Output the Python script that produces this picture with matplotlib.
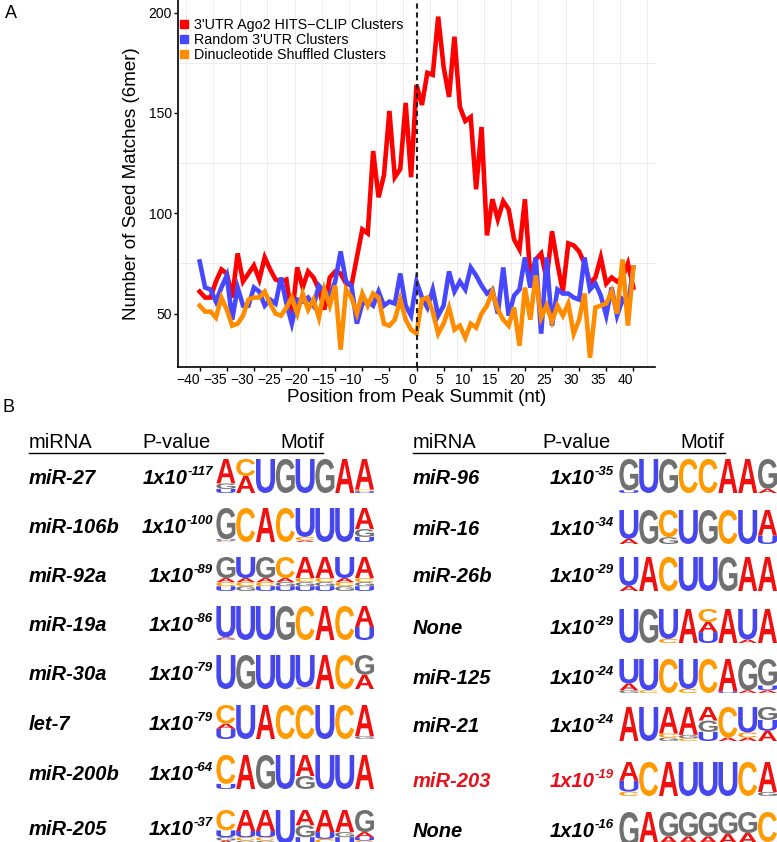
import matplotlib
matplotlib.use('Agg')
import matplotlib.pyplot as plt
import numpy as np
from matplotlib.lines import Line2D
from matplotlib.patches import PathPatch
from matplotlib.textpath import TextPath
from matplotlib.font_manager import FontProperties
from matplotlib.transforms import Affine2D

plt.rcParams['font.family'] = 'Liberation Sans'

# ---- Painel A: seed matches em torno do pico ----
positions = np.arange(-40, 41)
ago2_clip = [61, 58, 58, 66, 72, 70, 58, 80, 66, 70,
             74, 67, 78, 72, 67, 66, 67, 48, 73, 63,
             71, 68, 62, 52, 68, 71, 70, 65, 64, 78,
             92, 90, 131, 108, 119, 151, 118, 122, 155, 118,
             164, 154, 170, 169, 198, 173, 158, 188, 153, 146,
             148, 112, 143, 89, 107, 97, 106, 102, 87, 82,
             107, 68, 77, 80, 67, 91, 75, 61, 85, 84,
             81, 75, 65, 68, 78, 65, 68, 66, 68, 75, 63]
random_utr = [76, 63, 62, 56, 63, 69, 47, 63, 54, 54,
              63, 61, 54, 57, 55, 68, 55, 45, 57, 56,
              58, 54, 64, 61, 59, 66, 81, 66, 64, 45,
              55, 56, 54, 61, 54, 56, 55, 70, 54, 49,
              66, 58, 53, 62, 49, 54, 71, 61, 66, 62,
              73, 69, 64, 60, 62, 50, 73, 49, 59, 62,
              78, 63, 78, 40, 78, 44, 62, 60, 60, 58,
              57, 78, 62, 65, 59, 49, 63, 49, 57, 54, 73]
shuffled = [54, 51, 51, 48, 58, 52, 44, 45, 49, 57,
            58, 58, 61, 55, 50, 49, 53, 58, 50, 60,
            52, 57, 48, 62, 54, 64, 32, 62, 58, 50,
            60, 54, 60, 58, 45, 44, 47, 57, 47, 42,
            40, 57, 58, 51, 40, 45, 53, 42, 44, 38,
            45, 43, 50, 54, 61, 52, 47, 44, 53, 34,
            63, 47, 69, 48, 54, 46, 54, 49, 55, 40,
            47, 60, 28, 53, 54, 55, 61, 50, 77, 44, 73]
series_labels = ["3'UTR Ago2 HITS\u2212CLIP Clusters", "Random 3'UTR Clusters",
                 "Dinucleotide Shuffled Clusters"]
series_colors = ['#ff0000', '#4747ff', '#ff8c00']

# ---- Painel B: tabela de motivos ----
left_mirna = ['miR-27', 'miR-106b', 'miR-92a', 'miR-19a', 'miR-30a', 'let-7', 'miR-200b', 'miR-205']
left_exp = [117, 100, 89, 86, 79, 79, 64, 37]
left_motifs = [
    [[('A', .72), ('G', .16), ('U', .12)], [('C', .5), ('A', .5)], [('U', 1)], [('G', 1)], [('U', 1)],
     [('G', 1)], [('A', 1)], [('A', .9), ('C', .05), ('U', .05)]],
    [[('G', .92), ('U', .04), ('C', .04)], [('C', 1)], [('A', 1)], [('C', 1)], [('U', .85), ('C', .1), ('A', .05)],
     [('U', 1)], [('U', 1)], [('A', .62), ('G', .23), ('U', .15)]],
    [[('G', .62), ('A', .12), ('C', .12), ('U', .14)], [('U', .62), ('A', .12), ('C', .12), ('G', .14)],
     [('G', .62), ('A', .12), ('C', .12), ('U', .14)], [('C', .62), ('A', .12), ('G', .12), ('U', .14)],
     [('A', .62), ('C', .12), ('G', .12), ('U', .14)], [('A', .62), ('C', .12), ('G', .12), ('U', .14)],
     [('U', .62), ('A', .12), ('C', .12), ('G', .14)], [('A', .62), ('C', .12), ('G', .12), ('U', .14)]],
    [[('U', .92), ('A', .04), ('G', .04)], [('U', 1)], [('U', 1)], [('G', 1)], [('C', 1)], [('A', 1)],
     [('C', 1)], [('A', .62), ('U', .38)]],
    [[('U', 1)], [('G', 1)], [('U', 1)], [('U', 1)], [('U', .95), ('C', .05)], [('A', 1)], [('C', 1)],
     [('G', .58), ('A', .42)]],
    [[('C', .55), ('A', .15), ('U', .3)], [('U', 1)], [('A', 1)], [('C', 1)], [('C', 1)], [('U', 1)],
     [('C', 1)], [('A', .92), ('G', .08)]],
    [[('C', .85), ('U', .15)], [('A', 1)], [('G', 1)], [('U', 1)], [('A', .62), ('G', .38)], [('U', 1)],
     [('U', 1)], [('A', 1)]],
    [[('C', .6), ('U', .2), ('G', .1), ('A', .1)], [('A', .62), ('U', .18), ('C', .1), ('G', .1)],
     [('A', .62), ('U', .18), ('C', .1), ('G', .1)], [('U', 1)], [('A', .45), ('G', .35), ('U', .2)],
     [('A', .65), ('U', .2), ('C', .15)], [('A', .65), ('G', .15), ('U', .2)],
     [('G', .65), ('A', .15), ('U', .1), ('C', .1)]],
]
right_mirna = ['miR-96', 'miR-16', 'miR-26b', 'None', 'miR-125', 'miR-21', 'miR-203', 'None']
right_exp = [35, 34, 29, 29, 24, 24, 19, 16]
right_motifs = [
    [[('G', .92), ('U', .08)], [('U', 1)], [('G', 1)], [('C', 1)], [('C', 1)], [('A', 1)], [('A', 1)],
     [('G', .88), ('A', .12)]],
    [[('U', .85), ('A', .15)], [('G', 1)], [('C', .8), ('G', .2)], [('U', 1)], [('G', 1)], [('C', 1)],
     [('U', 1)], [('A', .75), ('U', .25)]],
    [[('U', .85), ('A', .15)], [('A', 1)], [('C', 1)], [('U', 1)], [('U', 1)], [('G', 1)], [('A', 1)],
     [('A', 1)]],
    [[('U', 1)], [('G', 1)], [('U', .88), ('C', .12)], [('A', 1)], [('C', .38), ('A', .3), ('U', .32)],
     [('A', 1)], [('U', .9), ('A', .1)], [('A', 1)]],
    [[('U', .72), ('A', .2), ('G', .08)], [('U', .92), ('C', .08)], [('C', 1)], [('U', .88), ('C', .12)],
     [('C', 1)], [('A', .95), ('U', .05)], [('G', .92), ('A', .08)], [('G', .78), ('U', .14), ('A', .08)]],
    [[('A', 1)], [('U', 1)], [('A', .78), ('C', .12), ('G', .1)], [('A', .82), ('G', .1), ('C', .08)],
     [('A', .4), ('G', .33), ('U', .27)], [('C', .9), ('A', .1)], [('U', .75), ('C', .15), ('A', .1)],
     [('G', .38), ('U', .32), ('A', .3)]],
    [[('A', .55), ('U', .32), ('C', .13)], [('C', 1)], [('A', 1)], [('U', 1)], [('U', 1)], [('U', 1)],
     [('C', 1)], [('A', .88), ('G', .12)]],
    [[('G', 1)], [('A', .92), ('U', .08)], [('G', .72), ('A', .2), ('U', .08)], [('G', .72), ('A', .2), ('C', .08)],
     [('G', .72), ('A', .2), ('U', .08)], [('G', .65), ('A', .28), ('C', .07)], [('G', .62), ('A', .3), ('U', .08)],
     [('C', .88), ('U', .12)]],
]
highlight = 'miR-203'
base_colors = {'A': '#f01010', 'C': '#ff9a00', 'G': '#707070', 'U': '#4646ee'}

W, H = 777, 842
fig = plt.figure(figsize=(W / 100, H / 100), dpi=100)

# eixo de fundo em pixels para o painel B
axb = fig.add_axes([0, 0, 1, 1])
axb.set_xlim(0, W)
axb.set_ylim(H, 0)
axb.axis('off')

axb.text(5, 13, 'A', fontsize=13, ha='left', va='center')
axb.text(2, 407, 'B', fontsize=13, ha='left', va='center')

logo_font = FontProperties(family='Liberation Sans', weight='bold')
glyphs = {b: TextPath((0, 0), b, size=1, prop=logo_font) for b in 'ACGU'}


def draw_letter(base, x0, y_bottom, w, h):
    path = glyphs[base]
    bb = path.get_extents()
    tr = (Affine2D().translate(-bb.x0, -bb.y0)
          .scale(w / bb.width, -h / bb.height)
          .translate(x0, y_bottom))
    axb.add_patch(PathPatch(tr.transform_path(path), fc=base_colors[base], ec='none'))


def draw_motif(columns, x_start, y_center, col_w=19.8, box_h=34):
    for i, col in enumerate(columns):
        y = y_center + box_h / 2
        for base, frac in reversed(col):
            h = frac * box_h
            draw_letter(base, x_start + i * col_w + 0.4, y, col_w - 0.8, h)
            y -= h


def draw_table(names, exps, motifs, x_name, x_p, x_motif, x_head_p, x_head_m, x_line_end, rows_y):
    axb.text(x_name, 443, 'miRNA', fontsize=14.5, ha='left', va='center')
    axb.text(x_head_p, 443, 'P-value', fontsize=14.5, ha='left', va='center')
    axb.text(x_head_m, 443, 'Motif', fontsize=14.5, ha='left', va='center')
    axb.plot([x_name, x_line_end], [453, 453], color='black', lw=1.0)
    style = dict(fontweight='bold', fontstyle='italic')
    for name, e, motif, y in zip(names, exps, motifs, rows_y):
        c = '#e8101a' if name == highlight else 'black'
        axb.text(x_name, y + 7, name, fontsize=14.5, color=c, ha='left', va='baseline', **style)
        sup = axb.text(x_p, y - 2, '-%d' % e, fontsize=9.5, color=c, ha='right', va='baseline', **style)
        axb.annotate('1x10', xy=(0, y + 7), xycoords=(sup, 'data'), fontsize=14.5, color=c,
                     ha='right', va='baseline', **style)
        draw_motif(motif, x_motif, y - 1)


draw_table(left_mirna, left_exp, left_motifs, 29, 213, 216, 142, 280, 323,
           [477, 526, 575, 624, 673, 723, 773, 828])
draw_table(right_mirna, right_exp, right_motifs, 413, 614, 619, 542, 680, 725,
           [477, 528, 575, 627, 677, 725, 780, 830])

# ---- painel A ----
ax = fig.add_axes([178 / W, 1 - 367 / H, (655 - 178) / W, 367 / H])
for vals, lab, col in zip([ago2_clip, random_utr, shuffled], series_labels, series_colors):
    ax.plot(positions, vals, color=col, lw=3.3, solid_joinstyle='miter', label=lab)
ax.axvline(0, color='#222222', ls=(0, (2.5, 1.8)), lw=1.5)

ax.set_xlim(-44, 44)
ax.set_ylim(23.4, 206.3)
xt = np.arange(-40, 41, 5)
ax.set_xticks(xt)
ax.set_xticklabels([str(t).replace('-', '\u2212') for t in xt], ha='right')
ax.set_yticks([50, 100, 150, 200])
ax.set_xticks(np.arange(-42.5, 43, 5), minor=True)
ax.set_yticks([75, 125, 175], minor=True)
ax.grid(which='minor', color='#ededed', lw=0.7)
ax.set_axisbelow(True)
ax.tick_params(which='minor', length=0)
ax.tick_params(which='major', length=3, width=1, labelsize=10, pad=1.5, colors='black')
for s in ['top', 'right']:
    ax.spines[s].set_visible(False)
for s in ['left', 'bottom']:
    ax.spines[s].set_linewidth(1.2)

ax.set_xlabel('Position from Peak Summit (nt)', fontsize=13.5)
ax.xaxis.label.set_verticalalignment('center')
ax.xaxis.set_label_coords(0.5, -30 / 367)
ax.set_ylabel('Number of Seed Matches (6mer)', fontsize=13.5)
ax.yaxis.label.set_verticalalignment('center')
ax.yaxis.set_label_coords(-46 / 477, 0.5)

handles = [Line2D([], [], marker='s', ls='none', ms=5.5, mfc=c, mec=c) for c in series_colors]
ax.legend(handles, series_labels, loc='upper left', bbox_to_anchor=(0.004, 0.952), frameon=False,
          fontsize=10.3, handlelength=0.6, handletextpad=0.4, labelspacing=0.1,
          borderaxespad=0, borderpad=0)

fig.savefig('out.png', dpi=100)
